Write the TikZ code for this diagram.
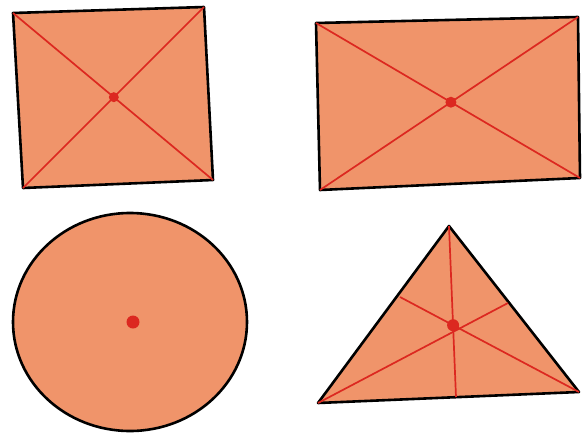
\documentclass[tikz,border=0pt]{standalone}
\usepackage{tikz}
\definecolor{crayon}{RGB}{240,148,106}
\definecolor{median}{RGB}{220,40,32}

\begin{document}
\begin{tikzpicture}[x=1pt,y=-1pt]
	\tikzset{
		figure/.style={fill=crayon,draw=black,line width=2.6pt,line join=round},
		diag/.style={draw=median,line width=1.7pt},
		centre/.style={fill=median}
	}
	\useasboundingbox (0,0) rectangle (582,440);

	% square
	\coordinate (S1) at (13,13);
	\coordinate (S2) at (204,7);
	\coordinate (S3) at (213,180);
	\coordinate (S4) at (23,188);
	\draw [figure] (S1) -- (S2) -- (S3) -- (S4) -- cycle;
	\draw [diag] (S1) -- (S3);
	\draw [diag] (S2) -- (S4);
	\fill [centre] (intersection of S1--S3 and S2--S4) circle (5);

	% rectangle
	\coordinate (R1) at (316,23);
	\coordinate (R2) at (578,17);
	\coordinate (R3) at (580,178);
	\coordinate (R4) at (320,190);
	\draw [figure] (R1) -- (R2) -- (R3) -- (R4) -- cycle;
	\draw [diag] (R1) -- (R3);
	\draw [diag] (R2) -- (R4);
	\fill [centre] (intersection of R1--R3 and R2--R4) circle (5.5);

	% circle
	\coordinate (C0) at (130,322);
	\draw [figure] (C0) ellipse (117 and 109);
	\fill [centre] (133,322) circle (6.5);

	% triangle
	\coordinate (T1) at (449,226);
	\coordinate (T2) at (318,403);
	\coordinate (T3) at (579,392);
	\coordinate (M1) at (456,397);
	\coordinate (M2) at (400,297);
	\coordinate (M3) at (508,303);
	\draw [figure] (T1) -- (T2) -- (T3) -- cycle;
	\draw [diag] (T1) -- (M1);
	\draw [diag] (T3) -- (M2);
	\draw [diag] (T2) -- (M3);
	\fill [centre] (intersection of T1--M1 and T3--M2) circle (6);
\end{tikzpicture}
\end{document}
